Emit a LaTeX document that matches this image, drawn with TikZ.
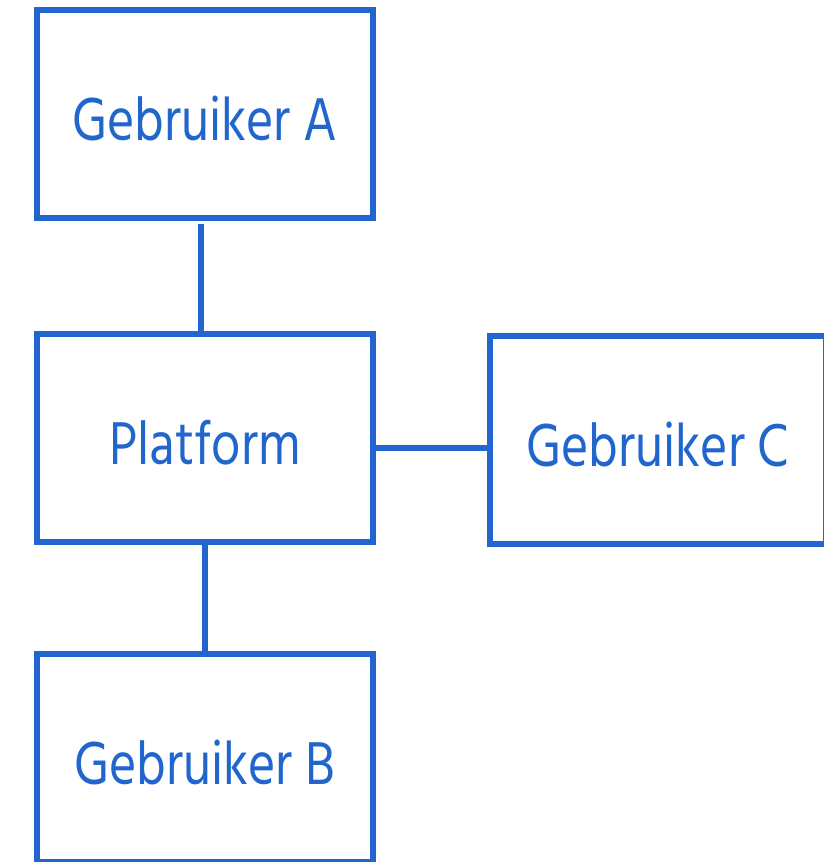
\documentclass[tikz,border=0pt]{standalone}
\usepackage{fontspec}
\setmainfont[FakeStretch=0.84]{Hind Madurai}
\definecolor{boxblue}{RGB}{33,102,204}
\begin{document}
\begin{tikzpicture}[x=1pt,y=-1pt,
  entity/.style={draw=boxblue, line width=6pt, rectangle, inner sep=0pt,
    minimum width=336pt, minimum height=208pt,
    text=boxblue, font=\fontsize{62}{62}\selectfont,
    text height=53pt, text depth=0pt},
  link/.style={draw=boxblue, line width=6pt}]
  \useasboundingbox (0,0) rectangle (824,862);
  \node[entity] (A) at (205,114) {Gebruiker A};
  \node[entity] (P) at (205,438) {Platform};
  \node[entity] (C) at (658,439.5) {Gebruiker C};
  \node[entity] (B) at (205,758) {Gebruiker B};
  \draw[link, shorten <=3pt] ([xshift=-4pt]A.south) -- ([xshift=-4pt]P.north);
  \draw[link] ([yshift=-10pt]P.east) -- ([yshift=-8.5pt]C.west);
  \draw[link] (P.south) -- (B.north);
\end{tikzpicture}
\end{document}
